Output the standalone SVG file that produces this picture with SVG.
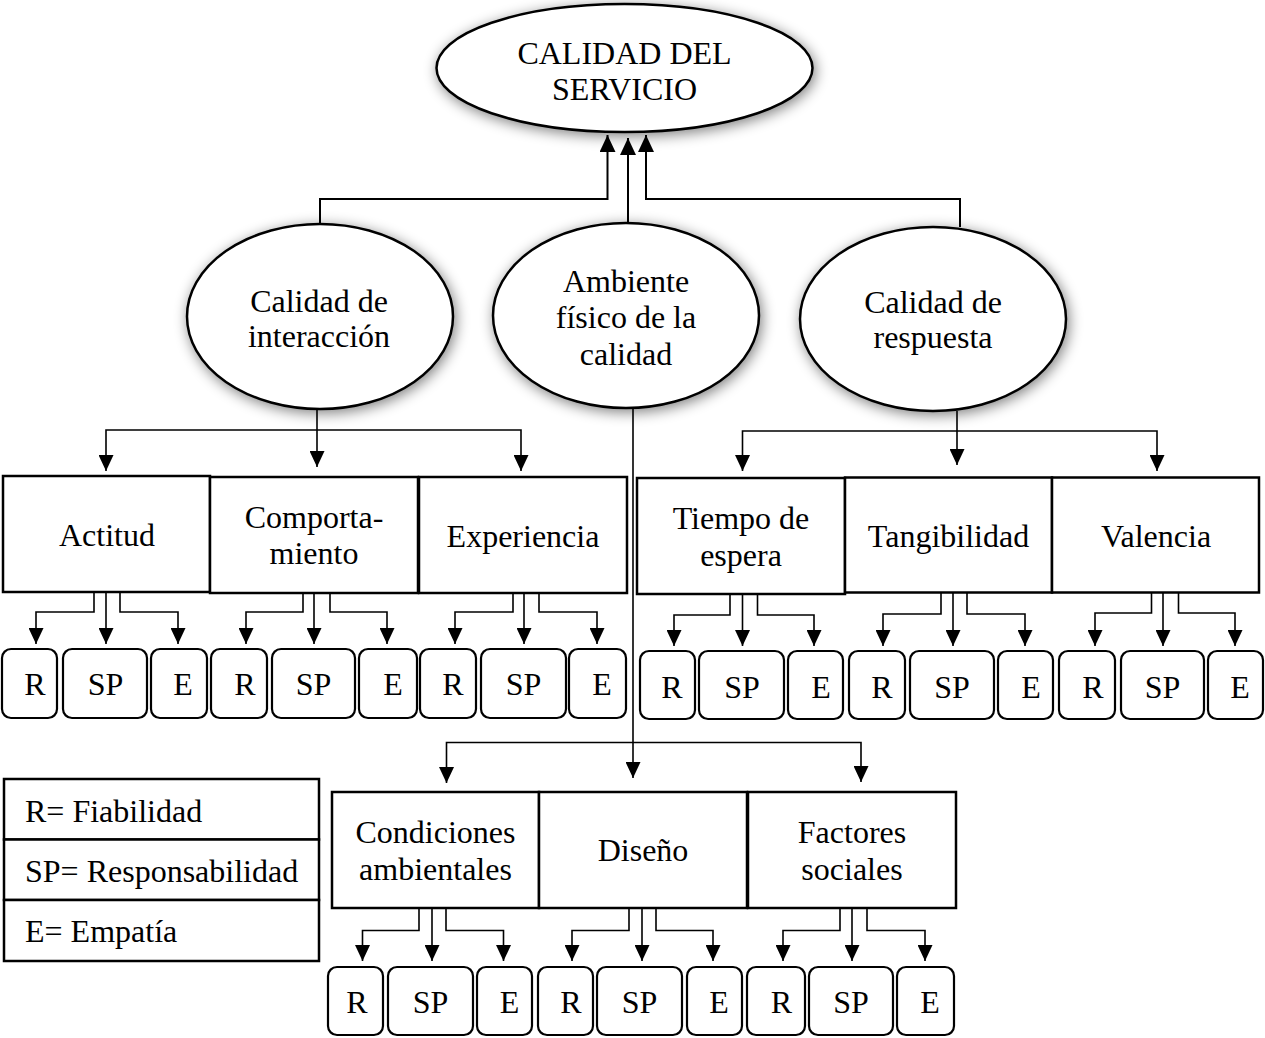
<svg xmlns="http://www.w3.org/2000/svg" width="1265" height="1038" viewBox="0 0 1265 1038">
  <style>
    .t { font-family: "Liberation Serif", "Times New Roman", serif; font-size: 32px; fill: #000; text-anchor: middle; }
    .tl { text-anchor: start; }
    .ell { fill: #fff; stroke: #000; stroke-width: 2.5; filter: url(#soft); }
    .box { fill: #fff; stroke: #000; stroke-width: 2.5; }
    .sub { fill: #fff; stroke: #000; stroke-width: 2.2; }
    .c1 { fill: none; stroke: #000; stroke-width: 2; marker-end: url(#ah); }
    .c2 { fill: none; stroke: #000; stroke-width: 1.6; marker-end: url(#ah2); }
  </style>
  <defs>
    <!-- soft halo behind the ellipses -->
    <filter id="soft" x="-20%" y="-25%" width="140%" height="150%">
      <feGaussianBlur in="SourceAlpha" stdDeviation="7"/>
      <feOffset dx="1.5" dy="3" result="b"/>
      <feComponentTransfer><feFuncA type="linear" slope="0.5"/></feComponentTransfer>
      <feMerge><feMergeNode/><feMergeNode in="SourceGraphic"/></feMerge>
    </filter>
    <marker id="ah" viewBox="0 0 17 16" markerWidth="17" markerHeight="16" refX="17" refY="8" orient="auto" markerUnits="userSpaceOnUse">
      <path d="M0,0 L17,8 L0,16 Z" fill="#000"/>
    </marker>
    <marker id="ah2" viewBox="0 0 16 15" markerWidth="16" markerHeight="15" refX="16" refY="7.5" orient="auto" markerUnits="userSpaceOnUse">
      <path d="M0,0 L16,7.5 L0,15 Z" fill="#000"/>
    </marker>
  </defs>

  <rect width="1265" height="1038" fill="#fff"/>

  <!-- Top node -->
  <g id="calidad-servicio">
    <ellipse class="ell" cx="624.5" cy="68" rx="188" ry="64"/>
    <text class="t" x="624.5" y="64">CALIDAD DEL</text>
    <text class="t" x="624.5" y="100">SERVICIO</text>
  </g>

  <!-- Dimensions -->
  <g id="calidad-interaccion">
    <ellipse class="ell" cx="320" cy="316.5" rx="133" ry="92.5"/>
    <text class="t" x="319" y="312">Calidad de</text>
    <text class="t" x="319" y="347">interacción</text>
  </g>
  <g id="ambiente-fisico">
    <ellipse class="ell" cx="626" cy="315.5" rx="133" ry="92.5"/>
    <text class="t" x="626" y="292">Ambiente</text>
    <text class="t" x="626" y="328">físico de la</text>
    <text class="t" x="626" y="365">calidad</text>
  </g>
  <g id="calidad-respuesta">
    <ellipse class="ell" cx="933" cy="319" rx="133" ry="92"/>
    <text class="t" x="933" y="313">Calidad de</text>
    <text class="t" x="933" y="348">respuesta</text>
  </g>

  <!-- Sub-dimensions: interaction -->
  <g id="actitud">
    <rect class="box" x="3" y="476" width="207" height="116"/>
    <text class="t" x="107" y="546">Actitud</text>
  </g>
  <g id="comportamiento">
    <rect class="box" x="210" y="477" width="208" height="116"/>
    <text class="t" x="314" y="528">Comporta-</text>
    <text class="t" x="314" y="564">miento</text>
  </g>
  <g id="experiencia">
    <rect class="box" x="419" y="477" width="208" height="116"/>
    <text class="t" x="523" y="547">Experiencia</text>
  </g>

  <!-- Sub-dimensions: response -->
  <g id="tiempo-espera">
    <rect class="box" x="637" y="478" width="208" height="116"/>
    <text class="t" x="741" y="529">Tiempo de</text>
    <text class="t" x="741" y="566">espera</text>
  </g>
  <g id="tangibilidad">
    <rect class="box" x="845" y="477.5" width="207" height="115"/>
    <text class="t" x="948.5" y="547">Tangibilidad</text>
  </g>
  <g id="valencia">
    <rect class="box" x="1052" y="477.5" width="207" height="115"/>
    <text class="t" x="1156" y="547">Valencia</text>
  </g>

  <!-- Sub-dimensions: physical environment -->
  <g id="condiciones-ambientales">
    <rect class="box" x="332" y="792" width="207" height="116"/>
    <text class="t" x="435.5" y="843">Condiciones</text>
    <text class="t" x="435.5" y="880">ambientales</text>
  </g>
  <g id="diseno">
    <rect class="box" x="539" y="792" width="208" height="116"/>
    <text class="t" x="643" y="861">Diseño</text>
  </g>
  <g id="factores-sociales">
    <rect class="box" x="748" y="792" width="208" height="116"/>
    <text class="t" x="852" y="843">Factores</text>
    <text class="t" x="852" y="880">sociales</text>
  </g>

  <!-- R / SP / E items, row 1 -->
  <g id="actitud-r"><rect class="sub" x="2" y="649" width="55" height="69" rx="9"/><text class="t" x="35" y="695">R</text></g>
  <g id="actitud-sp"><rect class="sub" x="63" y="649" width="84" height="69" rx="9"/><text class="t" x="105.5" y="695">SP</text></g>
  <g id="actitud-e"><rect class="sub" x="151" y="649" width="56" height="69" rx="9"/><text class="t" x="183" y="695">E</text></g>
  <g id="comportamiento-r"><rect class="sub" x="211" y="649" width="56" height="69" rx="9"/><text class="t" x="245" y="695">R</text></g>
  <g id="comportamiento-sp"><rect class="sub" x="272" y="649" width="83" height="69" rx="9"/><text class="t" x="313.5" y="695">SP</text></g>
  <g id="comportamiento-e"><rect class="sub" x="359" y="649" width="58" height="69" rx="9"/><text class="t" x="393" y="695">E</text></g>
  <g id="experiencia-r"><rect class="sub" x="420" y="649" width="56" height="69" rx="9"/><text class="t" x="453" y="695">R</text></g>
  <g id="experiencia-sp"><rect class="sub" x="481" y="649" width="85" height="69" rx="9"/><text class="t" x="523.5" y="695">SP</text></g>
  <g id="experiencia-e"><rect class="sub" x="569" y="649" width="57" height="69" rx="9"/><text class="t" x="602" y="695">E</text></g>

  <!-- R / SP / E items, row 2 -->
  <g id="tiempo-r"><rect class="sub" x="640" y="651" width="55" height="68" rx="9"/><text class="t" x="672" y="698">R</text></g>
  <g id="tiempo-sp"><rect class="sub" x="699" y="651" width="85" height="68" rx="9"/><text class="t" x="742" y="698">SP</text></g>
  <g id="tiempo-e"><rect class="sub" x="788" y="651" width="55" height="68" rx="9"/><text class="t" x="821" y="698">E</text></g>
  <g id="tangibilidad-r"><rect class="sub" x="849" y="651" width="56" height="68" rx="9"/><text class="t" x="882" y="698">R</text></g>
  <g id="tangibilidad-sp"><rect class="sub" x="910" y="651" width="84" height="68" rx="9"/><text class="t" x="952" y="698">SP</text></g>
  <g id="tangibilidad-e"><rect class="sub" x="998" y="651" width="55" height="68" rx="9"/><text class="t" x="1031" y="698">E</text></g>
  <g id="valencia-r"><rect class="sub" x="1059" y="651" width="56" height="68" rx="9"/><text class="t" x="1093" y="698">R</text></g>
  <g id="valencia-sp"><rect class="sub" x="1121" y="651" width="83" height="68" rx="9"/><text class="t" x="1162.5" y="698">SP</text></g>
  <g id="valencia-e"><rect class="sub" x="1208" y="651" width="55" height="68" rx="9"/><text class="t" x="1240" y="698">E</text></g>

  <!-- R / SP / E items, row 3 -->
  <g id="condiciones-r"><rect class="sub" x="328" y="967" width="55" height="68" rx="9"/><text class="t" x="357" y="1013">R</text></g>
  <g id="condiciones-sp"><rect class="sub" x="388" y="967" width="85" height="68" rx="9"/><text class="t" x="430.5" y="1013">SP</text></g>
  <g id="condiciones-e"><rect class="sub" x="477" y="967" width="55" height="68" rx="9"/><text class="t" x="509.5" y="1013">E</text></g>
  <g id="diseno-r"><rect class="sub" x="538" y="967" width="55" height="68" rx="9"/><text class="t" x="571" y="1013">R</text></g>
  <g id="diseno-sp"><rect class="sub" x="597" y="967" width="85" height="68" rx="9"/><text class="t" x="639.5" y="1013">SP</text></g>
  <g id="diseno-e"><rect class="sub" x="687" y="967" width="55" height="68" rx="9"/><text class="t" x="719" y="1013">E</text></g>
  <g id="factores-r"><rect class="sub" x="747" y="967" width="58" height="68" rx="9"/><text class="t" x="781.5" y="1013">R</text></g>
  <g id="factores-sp"><rect class="sub" x="809" y="967" width="84" height="68" rx="9"/><text class="t" x="851" y="1013">SP</text></g>
  <g id="factores-e"><rect class="sub" x="897" y="967" width="57" height="68" rx="9"/><text class="t" x="930" y="1013">E</text></g>

  <!-- Legend -->
  <g id="leyenda">
    <rect class="box" x="4" y="779" width="315" height="60.5"/>
    <rect class="box" x="4" y="839.5" width="315" height="60.5"/>
    <rect class="box" x="4" y="900" width="315" height="61"/>
    <text class="t tl" x="25" y="822">R= Fiabilidad</text>
    <text class="t tl" x="25" y="882">SP= Responsabilidad</text>
    <text class="t tl" x="25" y="942">E= Empatía</text>
  </g>

  <!-- Connectors -->
  <g id="connectors">
    <!-- dimensions to the top node -->
    <path class="c1" d="M320,224 V199 H607.5 V135"/>
    <path class="c1" d="M628,223 V138"/>
    <path class="c1" d="M960,227 V199 H646 V135"/>

    <!-- interaction branch -->
    <path class="c2" d="M317,409 V467"/>
    <path class="c2" d="M317,430 H106 V471"/>
    <path class="c2" d="M317,430 H521 V471"/>

    <!-- response branch -->
    <path class="c2" d="M957,411 V465"/>
    <path class="c2" d="M957,431 H742.5 V471"/>
    <path class="c2" d="M957,431 H1157 V471"/>

    <!-- physical environment branch -->
    <path class="c2" d="M633,408 V778"/>
    <path class="c2" d="M633,742.5 H446.5 V783"/>
    <path class="c2" d="M633,742.5 H861 V782"/>

    <!-- row 1 items -->
    <path class="c2" d="M94,592 V612 H36 V644"/>
    <path class="c2" d="M106,592 V644"/>
    <path class="c2" d="M120,592 V612 H178 V644"/>
    <path class="c2" d="M303,593 V612 H246 V644"/>
    <path class="c2" d="M314,593 V644"/>
    <path class="c2" d="M330,593 V612 H387 V644"/>
    <path class="c2" d="M513,593 V612 H455 V644"/>
    <path class="c2" d="M524,593 V644"/>
    <path class="c2" d="M539,593 V612 H597 V644"/>

    <!-- row 2 items -->
    <path class="c2" d="M730,594 V615 H674 V646"/>
    <path class="c2" d="M742.5,594 V646"/>
    <path class="c2" d="M757.5,594 V615 H814 V646"/>
    <path class="c2" d="M941,593 V614 H883 V646"/>
    <path class="c2" d="M953,593 V646"/>
    <path class="c2" d="M967,593 V614 H1025 V646"/>
    <path class="c2" d="M1151.5,593 V613 H1095 V646"/>
    <path class="c2" d="M1163,593 V646"/>
    <path class="c2" d="M1178.5,593 V613 H1235 V646"/>

    <!-- row 3 items -->
    <path class="c2" d="M419,908 V930.5 H362.5 V961"/>
    <path class="c2" d="M432,908 V961"/>
    <path class="c2" d="M446,908 V930.5 H503.5 V961"/>
    <path class="c2" d="M629,908 V930.5 H572 V961"/>
    <path class="c2" d="M642,908 V961"/>
    <path class="c2" d="M656,908 V930.5 H713 V961"/>
    <path class="c2" d="M840,908 V930.5 H783 V961"/>
    <path class="c2" d="M852,908 V961"/>
    <path class="c2" d="M867,908 V930.5 H925 V961"/>
  </g>
</svg>
